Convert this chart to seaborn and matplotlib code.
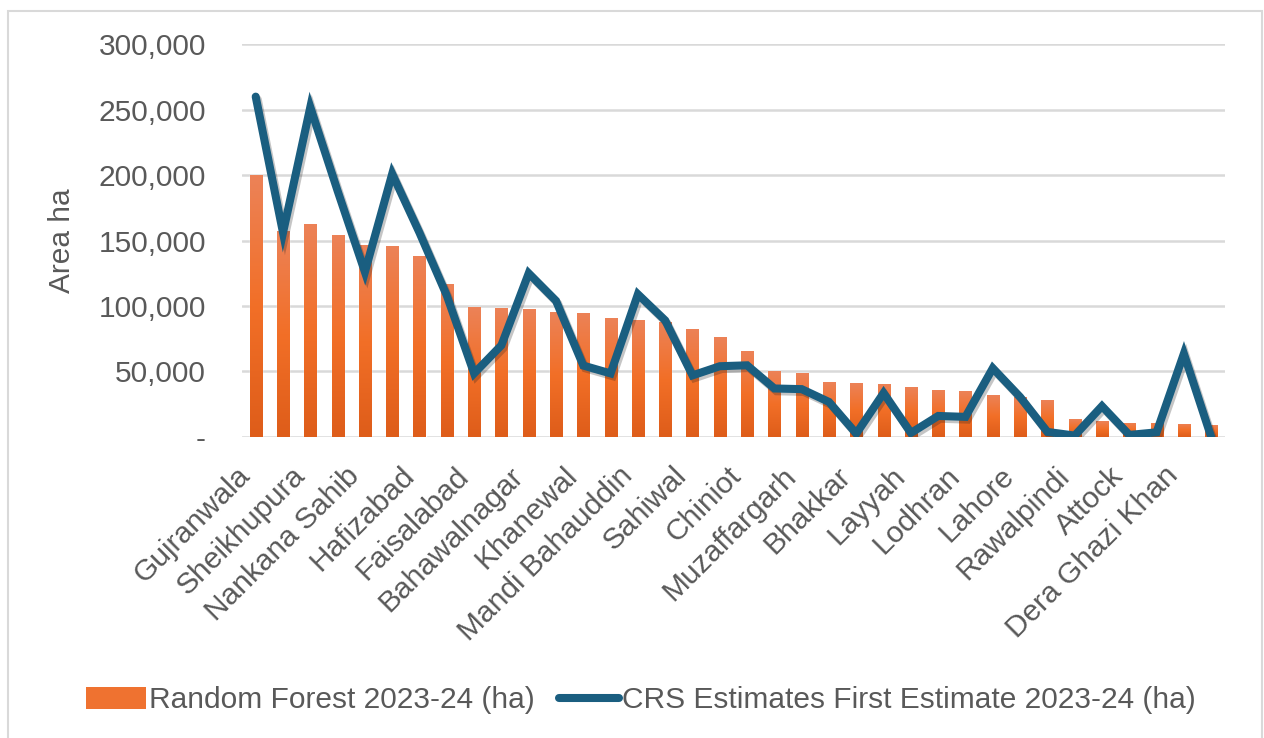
import numpy as np
import pandas as pd
import seaborn as sns
import matplotlib.pyplot as plt
import matplotlib.patheffects as pe
from matplotlib.colors import LinearSegmentedColormap
from matplotlib.patches import Rectangle, Patch
from matplotlib.lines import Line2D
from matplotlib.ticker import FuncFormatter

# --- data ---
districts = [
    'Gujranwala', 'Sialkot', 'Sheikhupura', 'Kasur', 'Nankana Sahib', 'Narowal',
    'Hafizabad', 'Okara', 'Faisalabad', 'Jhang', 'Bahawalnagar', 'Toba Tek Singh',
    'Khanewal', 'Sargodha', 'Mandi Bahauddin', 'Pakpattan', 'Sahiwal', 'Gujrat',
    'Chiniot', 'Vehari', 'Muzaffargarh', 'Bahawalpur', 'Bhakkar', 'Multan',
    'Layyah', 'Rahim Yar Khan', 'Lodhran', 'Rajanpur', 'Lahore', 'Mianwali',
    'Rawalpindi', 'Khushab', 'Attock', 'Jhelum', 'Dera Ghazi Khan', 'Chakwal',
]
random_forest = [
    200000, 157000, 163000, 154000, 146500, 145500,
    138500, 116500, 99000, 98500, 98000, 95500,
    95000, 90500, 89000, 88000, 82700, 76300,
    65400, 50200, 48500, 42000, 41000, 40800,
    37800, 36200, 35000, 31800, 30500, 28000,
    13500, 12000, 11000, 11000, 10200, 8900,
]
crs_estimate = [
    260000, 156000, 252000, 188000, 126000, 201000,
    156000, 108000, 48500, 70000, 125000, 104000,
    54500, 48500, 109000, 89000, 47000, 54000,
    54700, 37000, 36500, 26700, 2500, 33500,
    3000, 16000, 15300, 52500, 30500, 3800,
    1000, 23500, 1500, 3500, 63600, 0,
]
rf_label = 'Random Forest 2023-24 (ha)'
crs_label = 'CRS Estimates First Estimate 2023-24 (ha)'

df = pd.DataFrame({'district': districts, 'rf': random_forest, 'crs': crs_estimate})

sns.set_theme(style='white')
plt.rcParams['font.family'] = ['Liberation Sans', 'DejaVu Sans']
txt_color = '#595959'
grid_color = '#d9d9d9'
bar_color = '#ef7230'
line_color = '#1a5e80'
fs = 21.5

fig = plt.figure(figsize=(12.64, 7.38), dpi=100)
ax = fig.add_axes([0.1915, 0.408, 0.7775, 0.532])

sns.barplot(data=df, x='district', y='rf', color=bar_color, width=0.44,
            saturation=1, ax=ax, zorder=2)

# vertical gradient on every bar, like the office chart fill
grad = LinearSegmentedColormap.from_list('bar', ['#de5d1a', '#f26f27', '#ec8257'])
gvals = np.linspace(0, 1, 100).reshape(-1, 1)
for p in ax.patches:
    x0, y0 = p.get_x(), p.get_y()
    w, h = p.get_width(), p.get_height()
    im = ax.imshow(gvals, cmap=grad, origin='lower', aspect='auto',
                   extent=[x0, x0 + w, y0, y0 + h], zorder=2.5)
    im.set_clip_path(p)

sns.lineplot(data=df, x='district', y='crs', sort=False, color=line_color,
             linewidth=5.8, ax=ax, zorder=4,
             path_effects=[pe.SimpleLineShadow(offset=(1.5, -2), alpha=0.25),
                           pe.Normal()])
ax.lines[-1].set_solid_joinstyle('miter')

ax.set_xlim(-0.5, len(districts) - 0.5)
ax.set_ylim(0, 300000)
ax.set_yticks(np.arange(0, 300001, 50000))
ax.yaxis.set_major_formatter(FuncFormatter(lambda v, _: '-' if v == 0 else f'{v:,.0f}'))
ax.grid(axis='y', color=grid_color, linewidth=1.8, zorder=0)
ax.set_axisbelow(True)
for s in ax.spines.values():
    s.set_visible(False)

ax.tick_params(axis='y', length=0, pad=26, labelsize=fs, labelcolor=txt_color)
ax.tick_params(axis='x', length=0, pad=32, labelsize=fs, labelcolor=txt_color)
ax.set_xticks(range(len(districts)))
ax.set_xticklabels([d if i % 2 == 0 else '' for i, d in enumerate(districts)],
                   rotation=45, ha='right', va='bottom', rotation_mode='anchor')
ax.set_xlabel('')
ax.set_ylabel('Area ha', fontsize=fs, color=txt_color, labelpad=16)

handles = [Patch(facecolor=bar_color, edgecolor='none'),
           Line2D([0], [0], color=line_color, linewidth=5.8, solid_capstyle='round')]
fig.legend(handles, [rf_label, crs_label], loc='center', bbox_to_anchor=(0.507, 0.051),
           ncol=2, frameon=False, fontsize=fs, labelcolor=txt_color,
           handlelength=2.0, handleheight=0.75, handletextpad=0.1, columnspacing=0.8)

# chart area border
fig.add_artist(Rectangle((8 / 1264, -0.05), 1254 / 1264, 1.05 - 11 / 738,
                         transform=fig.transFigure, fill=False,
                         edgecolor=grid_color, linewidth=1.5))

fig.savefig('out.png', dpi=100)
